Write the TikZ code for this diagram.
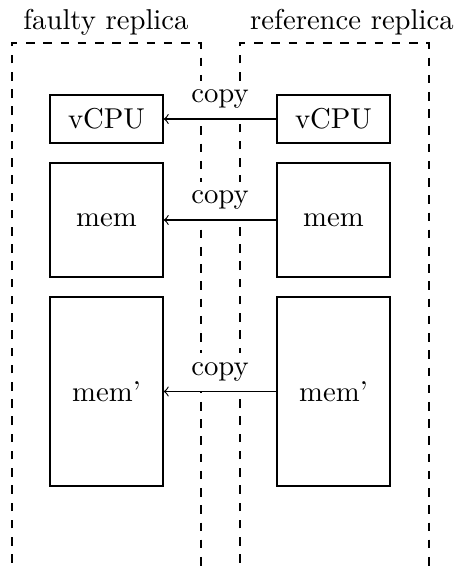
\documentclass[tikz,border=0pt]{standalone}
\begin{document}
\begin{tikzpicture}[x=0.3484pt, y=-0.3484pt,
  unit/.style={draw, minimum width=39.37pt, inner sep=0pt},
  zone/.style={draw, dashed},
  copyarrow/.style={->},
  copylabel/.style={above, fill=white},
  title/.style={anchor=base, inner sep=0pt}]
  \useasboundingbox (0,0) rectangle (456,571);
  \clip (0,0) rectangle (456,571);

  % replica zones, open at the bottom
  \draw[zone] (12,580) -- (12,43) -- (201,43) -- (201,580);
  \draw[zone] (240,580) -- (240,43) -- (429,43) -- (429,580);
  \node[title] (tf) at (106,29) {faulty replica};
  \node[title] (tr) at (352,29) {reference replica};

  % faulty replica state
  \node[unit, minimum height=16.72pt] (fcpu) at (106.5,119) {vCPU};
  \node[unit, minimum height=39.72pt] (fmem) at (106.5,220) {mem};
  \node[unit, minimum height=65.85pt] (fmem2) at (106.5,391.5) {mem'};

  % reference replica state
  \node[unit, minimum height=16.72pt] (rcpu) at (333.5,119) {vCPU};
  \node[unit, minimum height=39.72pt] (rmem) at (333.5,220) {mem};
  \node[unit, minimum height=65.85pt] (rmem2) at (333.5,391.5) {mem'};

  % state transfer
  \draw[copyarrow] (rcpu.west) -- node[copylabel] (c1) {copy} (fcpu.east);
  \draw[copyarrow] (rmem.west) -- node[copylabel] (c2) {copy} (fmem.east);
  \draw[copyarrow] (rmem2.west) -- node[copylabel] (c3) {copy} (fmem2.east);
\end{tikzpicture}
\end{document}
